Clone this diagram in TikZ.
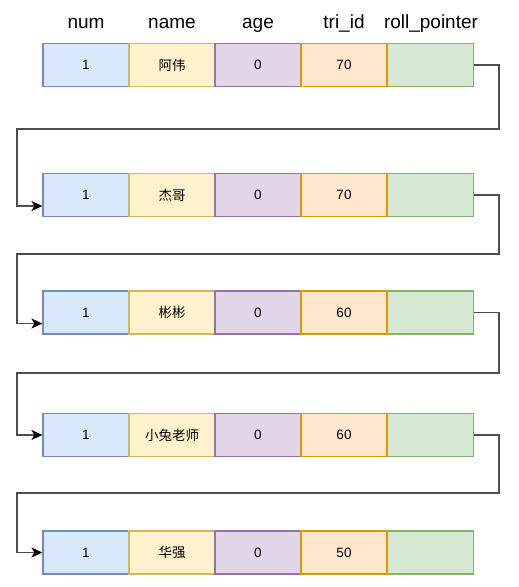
\documentclass[tikz,border=0pt]{standalone}
\usepackage{fontspec}
\setmainfont{Liberation Sans}
\newfontfamily\cjk{Noto Sans CJK SC}
\usetikzlibrary{arrows.meta}

\definecolor{bluefill}{HTML}{DAE8FC}\definecolor{bluedraw}{HTML}{6C8EBF}
\definecolor{yelfill}{HTML}{FFF2CC}\definecolor{yeldraw}{HTML}{D6B656}
\definecolor{purfill}{HTML}{E1D5E7}\definecolor{purdraw}{HTML}{9673A6}
\definecolor{orafill}{HTML}{FFE6CC}\definecolor{oradraw}{HTML}{D79B00}
\definecolor{grnfill}{HTML}{D5E8D4}\definecolor{grndraw}{HTML}{82B366}
\definecolor{linkgray}{HTML}{4D4D4D}

\begin{document}
\begin{tikzpicture}[x=1pt,y=-1pt,
 cell/.style={draw,line width=1.2pt,minimum width=86pt,minimum height=43pt,inner sep=0pt,
  font=\fontsize{13.5}{16}\selectfont},
 head/.style={anchor=base,inner sep=0pt,font=\fontsize{19}{22}\selectfont},
 link/.style={draw=linkgray,line width=1.3pt,-{Stealth[length=11pt,width=10pt,inset=3pt,color=black]}}]
\useasboundingbox (0,0) rectangle (519,587);
% column titles
\node[head] (hnum) at (86,28) {num};
\node[head] (hname) at (172,28) {name};
\node[head] (hage) at (258,28) {age};
\node[head] (htid) at (344,28) {tri\_id};
\node[head] (hrp) at (431,28) {roll\_pointer};
% one row per version of the record
\foreach \r/\y/\nm/\tid in {1/65/阿伟/70,2/195/杰哥/70,3/312.5/彬彬/60,4/435/小兔老师/60,5/552.5/华强/50}{
 \node[cell,fill=bluefill,draw=bluedraw] (n\r) at (86,\y) {1};
 \node[cell,fill=yelfill,draw=yeldraw] (nm\r) at (172,\y) {\cjk\nm};
 \node[cell,fill=purfill,draw=purdraw] (ag\r) at (258,\y) {0};
 \node[cell,fill=orafill,draw=oradraw] (tid\r) at (344,\y) {\tid};
 \node[cell,fill=grnfill,draw=grndraw] (rp\r) at (430.5,\y) {};
}
% roll pointers
\coordinate (b1) at (17,129);
\coordinate (b2) at (17,254);
\coordinate (b3) at (17,373);
\coordinate (b4) at (17,493);
\draw[link] (rp1.east) -| (499,129) -- (b1) |- ([yshift=-11pt]n2.west);
\draw[link] (rp2.east) -| (499,254) -- (b2) |- ([yshift=-11pt]n3.west);
\draw[link] (rp3.east) -| (499,373) -- (b3) |- (n4.west);
\draw[link] (rp4.east) -| (499,493) -- (b4) |- (n5.west);
\end{tikzpicture}
\end{document}
